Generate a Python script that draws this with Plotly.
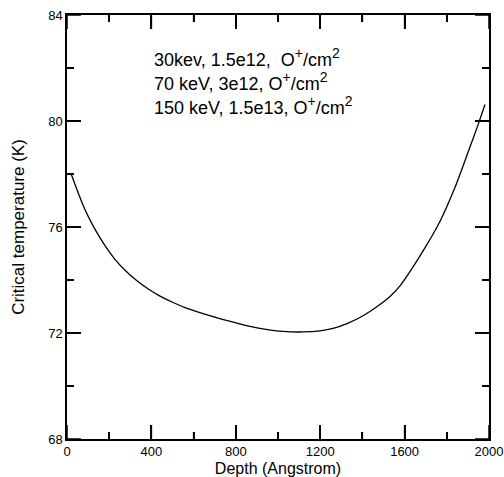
import plotly.graph_objects as go

# Critical temperature profile vs. implantation depth
depth = [20, 50, 85, 120, 156, 190, 227, 280, 330, 385, 441, 500, 560, 630, 700, 788,
         867, 950, 1024, 1118, 1200, 1261, 1330, 1403, 1470, 1531, 1580, 1634, 1697,
         1768, 1839, 1902, 1950, 1981]
tc = [78.0, 77.35, 76.66, 76.1, 75.6, 75.18, 74.78, 74.33, 73.98, 73.66, 73.39, 73.16,
      72.96, 72.77, 72.6, 72.41, 72.25, 72.13, 72.06, 72.04, 72.08, 72.17, 72.36, 72.65,
      73.0, 73.38, 73.8, 74.42, 75.22, 76.22, 77.5, 78.85, 79.9, 80.62]

X_RANGE = [0, 2000]
Y_RANGE = [68, 84]
X_MAJOR = [0, 400, 800, 1200, 1600, 2000]
X_MINOR = [200, 600, 1000, 1400, 1800]
Y_MAJOR = [68, 72, 76, 80, 84]
Y_MINOR = [70, 74, 78, 82]

FONT = "Liberation Sans"
SUP = '<sup><span style="font-size:14px">{}</span></sup>'

implant_lines = [
    "30kev, 1.5e12,  O" + SUP.format("+") + "/cm" + SUP.format("2"),
    "70 keV, 3e12, O" + SUP.format("+") + "/cm" + SUP.format("2"),
    "150 keV, 1.5e13, O" + SUP.format("+") + "/cm" + SUP.format("2"),
]

fig = go.Figure()
fig.add_trace(go.Scatter(
    x=depth, y=tc, mode="lines", line_shape="spline",
    line=dict(color="black", width=1.3, smoothing=0.8), showlegend=False, hoverinfo="skip",
))

axis_style = dict(
    showline=True, linecolor="black", linewidth=1.5, mirror="ticks",
    ticks="inside", ticklen=14, tickwidth=2, tickcolor="black",
    showgrid=False, zeroline=False, automargin=False,
    tickfont=dict(family=FONT, size=13, color="black"),
)

fig.update_layout(
    template="none",
    font=dict(family=FONT, color="black"),
    xaxis=dict(
        range=X_RANGE, tickmode="array", tickvals=X_MAJOR,
        minor=dict(ticks="inside", ticklen=7, tickwidth=2, tickcolor="black",
                   tickmode="array", tickvals=X_MINOR, showgrid=False),
        title=dict(text="Depth (Angstrom)", font=dict(size=16), standoff=6),
        **axis_style,
    ),
    yaxis=dict(
        range=Y_RANGE, tickmode="array", tickvals=Y_MAJOR,
        minor=dict(ticks="inside", ticklen=7, tickwidth=2, tickcolor="black",
                   tickmode="array", tickvals=Y_MINOR, showgrid=False),
        title=dict(text="Critical temperature (K)", font=dict(size=17), standoff=19),
        **axis_style,
    ),
)

# inward tick marks on all four sides (major 14 px, minor 7 px)
tick_line = dict(color="black", width=1.5)
for vals, length in ((X_MAJOR, 14), (X_MINOR, 7)):
    for v in vals:
        for anchor, sign in ((Y_RANGE[0], 1), (Y_RANGE[1], -1)):
            fig.add_shape(type="line", xref="x", yref="y", x0=v, x1=v,
                          ysizemode="pixel", yanchor=anchor, y0=0, y1=sign * length,
                          line=tick_line)
for vals, length in ((Y_MAJOR, 14), (Y_MINOR, 7)):
    for v in vals:
        for anchor, sign in ((X_RANGE[0], 1), (X_RANGE[1], -1)):
            fig.add_shape(type="line", xref="x", yref="y", y0=v, y1=v,
                          xsizemode="pixel", xanchor=anchor, x0=0, x1=sign * length,
                          line=tick_line)

for i, line in enumerate(implant_lines):
    fig.add_annotation(
        xref="paper", yref="paper", x=(152 - 67) / 422, y=1 - (58 + 23.5 * i - 15) / 424,
        xanchor="left", yanchor="middle", text=line, showarrow=False, align="left",
        font=dict(size=18),
    )

fig.update_layout(
    width=504, height=477,
    margin=dict(l=67, r=15, t=15, b=38),
    paper_bgcolor="white", plot_bgcolor="white", showlegend=False,
)

fig.write_html("out.html")
